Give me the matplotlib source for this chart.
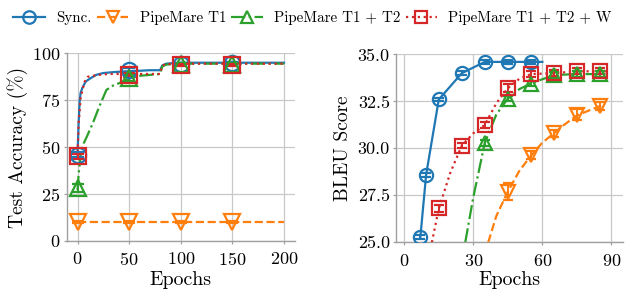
import numpy as np
import matplotlib
matplotlib.use('Agg')
import matplotlib.pyplot as plt

plt.rcParams['font.family'] = 'serif'
plt.rcParams['font.serif'] = ['cmr10']
plt.rcParams['mathtext.fontset'] = 'cm'
plt.rcParams['axes.formatter.use_mathtext'] = True
plt.rcParams['axes.unicode_minus'] = False

colors = ['#1f77b4', '#ff7f0e', '#2ca02c', '#d62728']
labels = ['Sync.', 'PipeMare T1', 'PipeMare T1 + T2', 'PipeMare T1 + T2 + W']
styles = ['-', '--', '-.', ':']
markers = ['o', 'v', '^', 's']

# ---- left: CIFAR test accuracy ----
sync_ep = [0, 1, 2, 3, 5, 8, 12, 18, 25, 35, 50, 60, 70, 80, 82, 86, 100, 150, 200]
sync_acc = [46, 62, 74, 79, 82, 85, 86.5, 88.5, 89.5, 90, 90.5, 90.7, 91, 91, 93.5, 94.5, 95, 95, 95]
t1_ep = [0, 50, 100, 150, 200]
t1_acc = [10, 10, 10, 10, 10]
t12_ep = [0, 1, 3, 6, 9, 15, 21, 28, 35, 40, 50, 60, 70, 80, 82, 86, 100, 150, 200]
t12_acc = [27, 35, 46, 52, 55.5, 63, 71.5, 80.5, 83, 84, 86.5, 88, 88.5, 89, 93, 94, 94.5, 94.5, 94.5]
w_ep = [0, 1, 3, 5, 7, 10, 15, 20, 30, 50, 60, 70, 80, 82, 86, 100, 150, 200]
w_acc = [44, 62, 76, 81, 85, 87.5, 88, 88.5, 89, 89, 89, 89, 89, 93.5, 94.3, 94.5, 94.5, 94.5]

acc_mk_ep = [0, 50, 100, 150]
acc_mk = [[46, 91, 94.5, 94.8], [10, 10, 10, 10], [28, 87, 94.5, 94.5], [45, 88.5, 94, 94]]
acc_err = [[1.5, 1, 0.5, 0.5], [0.5, 0.5, 0.5, 0.5], [2, 1.5, 0.5, 0.5], [1.5, 1, 0.5, 0.5]]

# ---- right: BLEU ----
bsync_ep = [7, 9.5, 15, 25, 35, 45, 55, 60]
bsync = [25.3, 28.6, 32.6, 34.0, 34.6, 34.6, 34.6, 34.6]
bt1_ep = [36.5, 40, 45, 50, 55, 60, 65, 70, 75, 80, 85, 87]
bt1 = [25.0, 26.4, 27.7, 28.8, 29.6, 30.3, 30.8, 31.3, 31.75, 32.0, 32.25, 32.3]
bt12_ep = [26.5, 30, 35, 40, 45, 50, 55, 65, 75, 85, 88]
bt12 = [25.0, 27.4, 30.3, 31.8, 32.65, 33.15, 33.45, 33.9, 33.95, 33.95, 33.95]
bw_ep = [12, 15, 20, 25, 30, 35, 40, 45, 50, 55, 65, 75, 85, 88]
bw = [25.0, 26.8, 28.7, 30.15, 30.8, 31.25, 32.4, 33.2, 33.7, 33.95, 34.0, 34.1, 34.1, 34.1]

bleu_mk_ep = [[7, 9.5, 15, 25, 35, 45, 55],
              [45, 55, 65, 75, 85],
              [35, 45, 55, 65, 75, 85],
              [15, 25, 35, 45, 55, 65, 75, 85]]
bleu_mk = [[25.3, 28.6, 32.6, 34.0, 34.6, 34.6, 34.6],
           [27.7, 29.65, 30.8, 31.8, 32.25],
           [30.3, 32.65, 33.45, 33.9, 33.95, 33.95],
           [26.8, 30.15, 31.25, 33.2, 33.95, 34.0, 34.1, 34.1]]
bleu_err = [[0.1, 0.1, 0.1, 0.1, 0.1, 0.1, 0.1],
            [0.45, 0.2, 0.2, 0.3, 0.2],
            [0.15, 0.15, 0.15, 0.15, 0.15, 0.15],
            [0.2, 0.15, 0.15, 0.2, 0.15, 0.15, 0.15, 0.15]]

fig = plt.figure(figsize=(6.25, 2.9), dpi=100)
ax1 = fig.add_axes([0.1067, 0.170, 0.365, 0.646])
ax2 = fig.add_axes([0.6336, 0.1645, 0.363, 0.648])

lines_x = [sync_ep, t1_ep, t12_ep, w_ep]
lines_y = [sync_acc, t1_acc, t12_acc, w_acc]
handles = []
for i in range(4):
    ax1.plot(lines_x[i], lines_y[i], color=colors[i], ls=styles[i], lw=1.6, zorder=3)
    ax1.errorbar(acc_mk_ep, acc_mk[i], yerr=acc_err[i], fmt=markers[i], ms=11,
                 mfc='none', mec=colors[i], mew=1.6, ecolor=colors[i], elinewidth=1.4,
                 capsize=4, capthick=1.4, zorder=4)
    h, = ax2.plot([], [], color=colors[i], ls=styles[i], lw=1.6, marker=markers[i],
                  ms=9, mfc='none', mew=1.6)
    handles.append(h)

blines_x = [bsync_ep, bt1_ep, bt12_ep, bw_ep]
blines_y = [bsync, bt1, bt12, bw]
for i in range(4):
    ax2.plot(blines_x[i], blines_y[i], color=colors[i], ls=styles[i], lw=1.6, zorder=3)
    ax2.errorbar(bleu_mk_ep[i], bleu_mk[i], yerr=bleu_err[i], fmt=markers[i], ms=9.5,
                 mfc='none', mec=colors[i], mew=1.6, ecolor=colors[i], elinewidth=1.4,
                 capsize=3.5, capthick=1.4, zorder=4)

ax1.set_xlim(-10.5, 210.5)
ax1.set_ylim(0, 100)
ax1.set_xticks([0, 50, 100, 150, 200])
ax1.set_yticks([0, 25, 50, 75, 100])
ax1.set_xlabel('Epochs', fontsize=14.3, labelpad=2)
ax1.set_ylabel('Test Accuracy (%)', fontsize=14, labelpad=3)

ax2.set_xlim(-3.6, 95)
ax2.set_ylim(25, 35)
ax2.set_xticks([0, 30, 60, 90])
ax2.set_yticks([25, 27.5, 30, 32.5, 35])
ax2.set_yticklabels(['25.0', '27.5', '30.0', '32.5', '35.0'])
ax2.set_xlabel('Epochs', fontsize=14.3, labelpad=2)
ax2.set_ylabel('BLEU Score', fontsize=14, labelpad=4)

for ax in (ax1, ax2):
    ax.grid(True, color='#c8c8c8', lw=0.9)
    ax.set_axisbelow(True)
    for s in ('top', 'right'):
        ax.spines[s].set_visible(False)
    for s in ('left', 'bottom'):
        ax.spines[s].set_color('#a0a0a0')
        ax.spines[s].set_linewidth(1.0)
    ax.tick_params(direction='out', length=2.5, width=0.9, color='#a0a0a0',
                   labelsize=13)
    ax.tick_params(axis='x', pad=5)
    ax.tick_params(axis='y', pad=2)

fig.legend(handles, labels, loc='center', bbox_to_anchor=(0.5, 0.938), ncol=4,
           frameon=False, fontsize=10.8, handlelength=2.1, handletextpad=0.75,
           columnspacing=0.35)

fig.savefig('out.png', dpi=100)
